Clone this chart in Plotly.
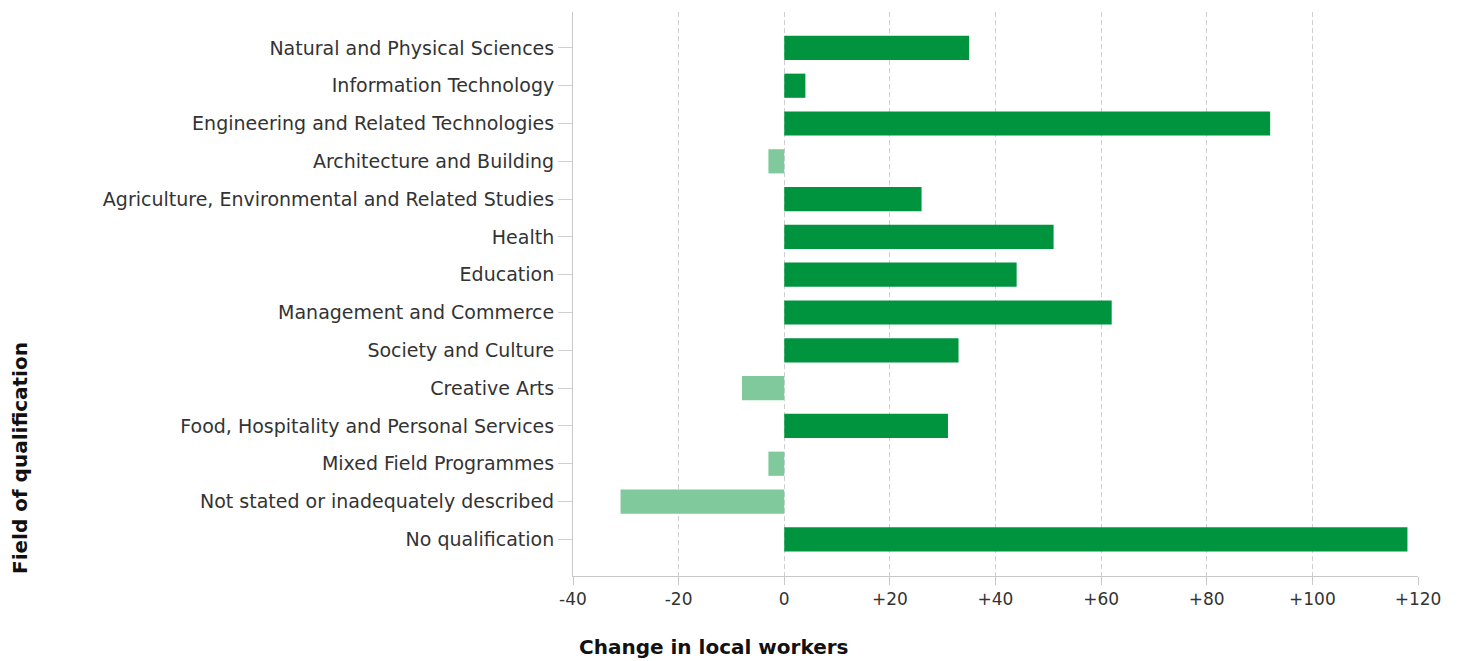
import plotly.graph_objects as go

categories = [
    "Natural and Physical Sciences",
    "Information Technology",
    "Engineering and Related Technologies",
    "Architecture and Building",
    "Agriculture, Environmental and Related Studies",
    "Health",
    "Education",
    "Management and Commerce",
    "Society and Culture",
    "Creative Arts",
    "Food, Hospitality and Personal Services",
    "Mixed Field Programmes",
    "Not stated or inadequately described",
    "No qualification",
]
values = [35, 4, 92, -3, 26, 51, 44, 62, 33, -8, 31, -3, -31, 118]

tick_vals = [-40, -20, 0, 20, 40, 60, 80, 100, 120]
tick_text = ["-40", "-20", "0", "+20", "+40", "+60", "+80", "+100", "+120"]

POS = "#00943f"
NEG = "#80c99d"
colors = [POS if v >= 0 else NEG for v in values]

fig = go.Figure(go.Bar(
    x=values, y=categories, orientation="h",
    marker=dict(color=colors, line=dict(width=0)),
    width=0.64,
))

# page body has an 8px offset; work in figure coordinates
OFF = 8
W, H = 1461 - OFF, 661 - OFF
L = 573 - OFF
T = 12 - OFF
R = W - (1418 - OFF)
B = H - (576 - OFF)
pw = W - L - R
ph = H - T - B

FONT = "DejaVu Sans, Verdana, sans-serif"

fig.update_layout(
    width=W, height=H,
    margin=dict(l=L, r=R, t=T, b=B),
    paper_bgcolor="white", plot_bgcolor="white",
    font=dict(family=FONT, size=17, color="#333333"),
    showlegend=False,
)
fig.update_xaxes(
    range=[-40, 120], tickvals=tick_vals, ticktext=tick_text,
    showgrid=True, gridcolor="#cfcfcf", griddash="5px,3px", gridwidth=1,
    zeroline=False, showline=True, linecolor="#c8c8c8", linewidth=1,
    ticks="outside", ticklen=8, tickcolor="#c8c8c8",
    tickfont=dict(family=FONT, size=17, color="#333333"),
)
fig.update_yaxes(
    range=[13.97, -0.95], showgrid=False, zeroline=False,
    showline=True, linecolor="#c8c8c8", linewidth=1,
    ticks="outside", ticklen=14, tickcolor="#d0d0d0",
    tickfont=dict(family=FONT, size=19, color="#333333"),
)

fig.add_annotation(
    text="<b>Field of qualification</b>", textangle=-90,
    xref="paper", yref="paper",
    x=(20 - 573) / pw, y=(576 - 458) / ph,
    xanchor="center", yanchor="middle", showarrow=False,
    font=dict(family=FONT, size=20, color="#111111"),
)
fig.add_annotation(
    text="<b>Change in local workers</b>",
    xref="paper", yref="paper",
    x=(577 - 573) / pw, y=(576 - 647) / ph,
    xanchor="left", yanchor="middle", showarrow=False,
    font=dict(family=FONT, size=20, color="#111111"),
)

fig.write_html("out.html")
